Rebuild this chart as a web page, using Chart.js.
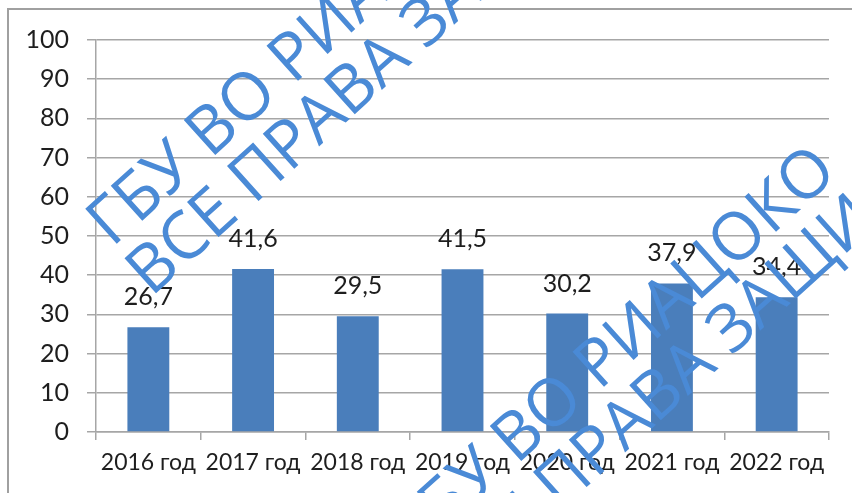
<!DOCTYPE html>
<html>
<head>
<meta charset="utf-8">
<script src="https://cdn.jsdelivr.net/npm/chart.js@4/dist/chart.umd.min.js"></script>
<style>
    html, body { margin: 0; padding: 0; background: #fff; }
    #wrap { width: 852px; height: 493px; }
</style>
</head>
<body>
<div id="wrap"><canvas id="barChart" width="852" height="493"></canvas></div>
<script>
    // Chart data
    const categories = ['2016 год', '2017 год', '2018 год', '2019 год', '2020 год', '2021 год', '2022 год'];
    const values = [26.7, 41.6, 29.5, 41.5, 30.2, 37.9, 34.4];
    const yMin = 0;
    const yMax = 100;
    const yStep = 10;
    const watermarkLines = ['ГБУ ВО РИАЦОКО', 'ВСЕ ПРАВА ЗАЩИЩЕНЫ'];

    const colors = {
        bar: '#4a7ebb',
        grid: '#a6a6a6',
        text: '#1e1e1e',
        frame: '#a0a0a0',
        watermark: '#4a8ad6'
    };
    const fontFamily = 'Lato, "Open Sans", sans-serif';

    // outer frame (cut off at right and bottom)
    const framePlugin = {
        id: 'frame',
        beforeDraw(chart) {
            const ctx = chart.ctx;
            ctx.save();
            ctx.strokeStyle = colors.frame;
            ctx.lineWidth = 2;
            ctx.beginPath();
            ctx.moveTo(8, chart.height);
            ctx.lineTo(8, 9);
            ctx.lineTo(chart.width, 9);
            ctx.stroke();
            ctx.restore();
        }
    };

    // value labels above bars, comma decimal
    const valueLabels = {
        id: 'valueLabels',
        afterDatasetsDraw(chart) {
            const ctx = chart.ctx;
            const meta = chart.getDatasetMeta(0);
            ctx.save();
            ctx.font = '25px ' + fontFamily;
            ctx.fillStyle = colors.text;
            ctx.textAlign = 'center';
            ctx.textBaseline = 'alphabetic';
            meta.data.forEach((bar, i) => {
                const txt = values[i].toFixed(1).replace('.', ',');
                ctx.fillText(txt, bar.x, bar.y - 22);
            });
            ctx.restore();
        }
    };

    // diagonal watermark, drawn twice
    const watermark = {
        id: 'watermark',
        afterDraw(chart) {
            const ctx = chart.ctx;
            const spots = [[112, 248], [418, 554]];
            ctx.save();
            ctx.fillStyle = colors.watermark;
            ctx.font = '66px "Open Sans", sans-serif';
            ctx.textBaseline = 'alphabetic';
            spots.forEach(p => {
                ctx.save();
                ctx.translate(p[0], p[1]);
                ctx.rotate(-42 * Math.PI / 180);
                watermarkLines.forEach((line, i) => {
                    ctx.fillText(line, i * -4, i * 63);
                });
                ctx.restore();
            });
            ctx.restore();
        }
    };

    new Chart(document.getElementById('barChart'), {
        type: 'bar',
        data: {
            labels: categories,
            datasets: [{
                data: values,
                backgroundColor: colors.bar,
                borderWidth: 0,
                categoryPercentage: 1,
                barPercentage: 0.4
            }]
        },
        options: {
            responsive: false,
            animation: false,
            layout: {
                padding: { top: 40, right: 23, left: 0, bottom: 0 }
            },
            plugins: {
                legend: { display: false },
                tooltip: { enabled: false }
            },
            scales: {
                x: {
                    afterFit(scale) { scale.height = 61; },
                    grid: {
                        drawOnChartArea: false,
                        color: colors.grid,
                        lineWidth: 1.5,
                        tickLength: 8
                    },
                    border: { color: colors.grid, width: 1.5 },
                    ticks: {
                        color: colors.text,
                        font: { family: fontFamily, size: 23 },
                        padding: 9,
                        maxRotation: 0,
                        autoSkip: false
                    }
                },
                y: {
                    min: yMin,
                    max: yMax,
                    afterFit(scale) { scale.width = 96; },
                    grid: {
                        color: colors.grid,
                        lineWidth: 1.5,
                        tickLength: 9
                    },
                    border: { color: colors.grid, width: 1.5 },
                    ticks: {
                        stepSize: yStep,
                        color: colors.text,
                        font: { family: fontFamily, size: 25 },
                        padding: 18
                    }
                }
            }
        },
        plugins: [framePlugin, valueLabels, watermark]
    });
</script>
</body>
</html>
